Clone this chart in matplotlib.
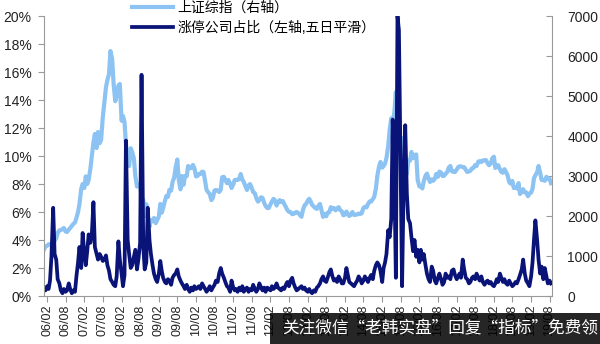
import pandas as pd
import matplotlib
matplotlib.use('Agg')
import matplotlib.pyplot as plt
import matplotlib.dates as mdates
from matplotlib.patches import Rectangle

plt.rcParams['font.family'] = ['Liberation Sans', 'Noto Sans CJK SC']

# semi-monthly points, 2006/01 .. 2019/08
dates = pd.date_range('2006-01-01', periods=328, freq='SMS')

# 上证综指 (right axis)
sh_index = (
    [1161, 1240, 1258, 1290, 1299, 1290, 1298, 1380, 1440, 1580, 1641, 1650,
     1672, 1700, 1612, 1600, 1658, 1700, 1752, 1800, 1837, 1950, 2099, 2300]  # 2006
    + [2675, 2800, 2700, 2990, 2800, 2900, 3183, 3500, 3841, 4050, 3700, 4100,
       3820, 3900, 4471, 4800, 5218, 5400, 5552, 6124, 5914, 5300, 4871, 5000]  # 2007
    + [5262, 5300, 4383, 4500, 4348, 3800, 3473, 3250, 3693, 3600, 3433, 3000,
       2736, 2800, 2775, 2450, 2397, 2000, 2293, 1950, 1729, 1900, 1871, 1950]  # 2008
    + [1821, 1900, 1991, 2300, 2082, 2200, 2373, 2500, 2477, 2650, 2633, 2850,
       2959, 3200, 3412, 2900, 2667, 3000, 2779, 3000, 2996, 3250, 3195, 3200]  # 2009
    + [3277, 3200, 2989, 3000, 3051, 3050, 3110, 3100, 2870, 2650, 2592, 2550,
       2398, 2450, 2638, 2650, 2639, 2600, 2656, 2970, 2979, 2900, 2820, 2900]  # 2010
    + [2808, 2700, 2790, 2900, 2905, 2900, 2928, 3050, 2911, 2850, 2743, 2650,
       2762, 2800, 2701, 2600, 2568, 2450, 2359, 2400, 2468, 2450, 2333, 2250]  # 2011
    + [2199, 2200, 2292, 2360, 2428, 2400, 2262, 2350, 2396, 2350, 2373, 2300,
       2225, 2150, 2103, 2100, 2047, 2050, 2086, 2100, 2069, 2030, 1980, 2150]  # 2012
    + [2269, 2300, 2385, 2430, 2366, 2280, 2237, 2200, 2178, 2250, 2301, 2150,
       1979, 2050, 1994, 2080, 2098, 2220, 2175, 2200, 2141, 2190, 2220, 2150]  # 2013
    + [2116, 2020, 2033, 2110, 2056, 2000, 2033, 2100, 2026, 2030, 2039, 2060,
       2048, 2070, 2202, 2230, 2217, 2300, 2364, 2360, 2420, 2480, 2683, 3000]  # 2014
    + [3235, 3350, 3210, 3250, 3310, 3450, 3748, 4150, 4442, 4300, 4612, 5100,
       4277, 3800, 3664, 3950, 3206, 3150, 3053, 3390, 3383, 3600, 3445, 3520]  # 2015
    + [3539, 2900, 2738, 2750, 2688, 2870, 3004, 3060, 2938, 2850, 2917, 2880,
       2930, 3050, 2979, 3110, 3085, 3000, 3005, 3060, 3100, 3210, 3250, 3120]  # 2016
    + [3104, 3100, 3159, 3220, 3242, 3240, 3223, 3220, 3155, 3100, 3117, 3130,
       3192, 3200, 3273, 3250, 3361, 3370, 3349, 3390, 3393, 3400, 3317, 3270]  # 2017
    + [3307, 3440, 3481, 3200, 3259, 3270, 3169, 3100, 3082, 3170, 3095, 3020,
       2847, 2810, 2876, 2700, 2725, 2690, 2821, 2550, 2603, 2670, 2588, 2590]  # 2018
    + [2494, 2560, 2585, 2680, 2941, 3020, 3091, 3250, 3078, 2900, 2899, 2880,
       2979, 2930, 2933, 2820]  # 2019
)

# 涨停公司占比, % (left axis, 5-day smoothed)
limit_up_pct = (
    [0.6, 0.4, 0.7, 0.5, 1.1, 2.8, 6.3, 3.0, 2.6, 1.2, 0.9, 0.4,
     0.2, 0.5, 0.3, 0.4, 0.9, 0.5, 0.2, 0.4, 0.3, 1.4, 2.4, 3.5]  # 2006
    + [2.0, 4.5, 3.0, 2.2, 3.2, 4.4, 3.8, 4.4, 6.7, 3.5, 3.0, 2.6,
       3.0, 2.8, 2.5, 2.6, 2.9, 2.2, 1.8, 1.2, 1.0, 0.8, 0.7, 1.4]  # 2007
    + [3.9, 2.6, 1.6, 0.7, 1.5, 11.1, 4.0, 3.0, 2.0, 2.2, 2.8, 3.3,
       1.9, 2.6, 3.8, 15.8, 3.5, 1.9, 2.4, 6.3, 4.0, 3.0, 2.2, 1.6]  # 2008
    + [1.2, 1.0, 1.6, 2.5, 1.8, 1.3, 1.0, 0.9, 1.2, 1.1, 0.8, 1.3,
       1.5, 1.6, 1.9, 1.4, 1.1, 0.9, 0.7, 0.5, 0.8, 0.5, 0.3, 0.6]  # 2009
    + [0.4, 0.7, 0.5, 0.6, 0.7, 0.5, 0.9, 0.7, 0.5, 0.3, 0.5, 0.7,
       0.4, 0.6, 0.8, 1.1, 1.0, 1.6, 2.0, 1.6, 1.3, 1.0, 0.7, 0.6]  # 2010
    + [0.3, 1.1, 0.6, 0.4, 0.5, 0.3, 0.6, 0.4, 0.7, 0.3, 0.5, 0.6,
       0.3, 0.5, 0.4, 0.8, 0.5, 0.3, 0.5, 0.9, 0.6, 0.4, 0.6, 0.3]  # 2011
    + [0.6, 0.5, 0.4, 0.7, 0.5, 0.6, 0.9, 0.6, 0.5, 0.4, 0.6, 0.5,
       0.8, 1.0, 0.7, 1.1, 1.3, 0.9, 0.6, 0.4, 0.5, 0.6, 0.7, 0.5]  # 2012
    + [0.6, 0.4, 0.3, 0.5, 0.3, 0.2, 0.4, 0.3, 0.6, 0.7, 0.9, 1.2,
       1.4, 1.1, 1.0, 1.3, 1.7, 1.9, 1.4, 1.1, 1.2, 1.0, 1.4, 1.2]  # 2013
    + [0.9, 0.9, 1.3, 2.0, 1.5, 1.0, 0.9, 0.8, 0.7, 0.9, 1.1, 1.4,
       1.2, 0.9, 1.1, 1.4, 1.2, 1.0, 1.3, 1.5, 1.2, 1.8, 2.2, 2.4]  # 2014
    + [2.2, 1.8, 1.0, 2.0, 2.4, 3.0, 4.7, 4.2, 5.5, 12.6, 8.3, 1.3,
       20.0, 19.0, 9.2, 0.7, 8.5, 12.2, 7.3, 5.5, 5.2, 4.2, 3.2, 4.0]  # 2015
    + [2.8, 3.3, 2.4, 3.3, 2.6, 3.0, 2.2, 1.6, 1.2, 1.0, 2.1, 1.8,
       1.1, 0.9, 1.3, 1.6, 1.2, 0.8, 1.0, 1.6, 1.3, 1.4, 1.2, 1.8]  # 2016
    + [1.9, 1.5, 1.2, 1.4, 1.6, 1.3, 2.6, 1.9, 1.3, 1.2, 0.9, 1.0,
       1.3, 1.4, 1.2, 1.6, 1.3, 1.1, 1.4, 1.0, 0.8, 1.0, 1.1, 0.9]  # 2017
    + [1.0, 0.8, 0.7, 0.9, 1.2, 1.0, 1.6, 1.3, 1.0, 1.2, 0.9, 0.8,
       1.1, 0.9, 0.7, 0.8, 1.0, 0.9, 1.2, 1.5, 1.9, 2.6, 1.6, 1.1]  # 2018
    + [0.9, 0.7, 1.4, 2.4, 4.0, 5.4, 4.0, 2.6, 1.6, 2.1, 1.2, 2.0,
       1.4, 0.9, 1.1, 0.9]  # 2019
)

labels = ['上证综指（右轴）', '涨停公司占比（左轴,五日平滑）']
light = '#8CC3F2'
navy = '#0A1478'
grey = '#9a9a9a'

fig = plt.figure(figsize=(6, 3.44), dpi=100)
ax = fig.add_axes([44/600, 1 - 296/344, (552 - 44)/600, (296 - 16)/344])
ax2 = ax.twinx()

l1, = ax2.plot(dates, sh_index, color=light, lw=3.0)
l2, = ax.plot(dates, limit_up_pct, color=navy, lw=2.7)
ax.set_zorder(ax2.get_zorder() + 1)
ax.patch.set_visible(False)

ax.set_ylim(0, 20)
ax.set_yticks(range(0, 21, 2))
ax.set_yticklabels([f'{v}%' for v in range(0, 21, 2)])
ax2.set_ylim(0, 7000)
ax2.set_yticks(range(0, 7001, 1000))

ax.set_xlim(pd.Timestamp('2006-01-01'), pd.Timestamp('2019-08-25'))
ax.xaxis.set_major_locator(mdates.MonthLocator(bymonth=[2, 8]))
ax.xaxis.set_major_formatter(mdates.DateFormatter('%y/%m'))

for s in ['top', 'right']:
    ax.spines[s].set_visible(False)
for s in ['top', 'left', 'bottom']:
    ax2.spines[s].set_visible(False)
for sp in [ax.spines['left'], ax.spines['bottom'], ax2.spines['right']]:
    sp.set_color(grey)

ax.tick_params(axis='y', direction='out', length=4, color=grey, labelsize=10, pad=5, labelcolor='#222222')
ax.tick_params(axis='x', direction='out', length=4, color=grey, labelsize=9, pad=2,
               labelrotation=90, labelcolor='#222222')
ax2.tick_params(axis='y', direction='in', length=4, color=grey, labelsize=10, pad=11, labelcolor='#222222')

fig.legend([l1, l2], labels, loc='upper left', bbox_to_anchor=(0.21, 1.015),
           frameon=False, fontsize=10, handlelength=3.0, handletextpad=0.3,
           labelspacing=0.45, borderaxespad=0)

# watermark bar at the bottom
fig.patches.append(Rectangle((270/600, 0), 330/600, 31/344, transform=fig.transFigure,
                             facecolor='black', alpha=0.85, zorder=10))
fig.text(282/600, 15/344, '关注微信“老韩实盘”回复“指标”免费领', color='white',
         fontsize=12, va='center', ha='left', zorder=11, family=['Noto Sans CJK SC'])

fig.savefig('out.png', dpi=100)
